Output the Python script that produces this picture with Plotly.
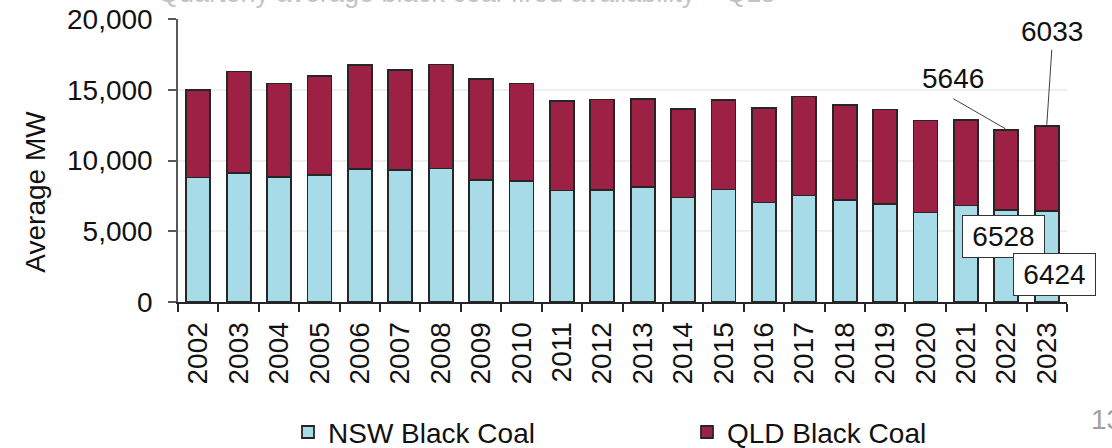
import plotly.graph_objects as go

# Q1 average black coal-fired availability by region (MW)
years = [str(y) for y in range(2002, 2024)]
nsw_mw = [8800, 9110, 8850, 8990, 9390, 9340, 9435, 8640, 8570, 7880, 7930,
          8120, 7390, 7950, 7030, 7530, 7225, 6940, 6330, 6820, 6528, 6424]
qld_mw = [6190, 7175, 6590, 7010, 7370, 7050, 7345, 7140, 6870, 6336, 6378,
          6216, 6260, 6337, 6692, 6990, 6687, 6662, 6495, 6055, 5646, 6033]
y_ticks = [0, 5000, 10000, 15000, 20000]

NSW_COLOUR = "#A6DBE7"
QLD_COLOUR = "#9C2144"
EDGE = "#262626"
FONT = "Liberation Sans, Arial, sans-serif"
FS = 28

fig = go.Figure()
fig.add_trace(go.Bar(x=years, y=nsw_mw, name="NSW Black Coal",
                     marker=dict(color=NSW_COLOUR, line=dict(color=EDGE, width=1.8))))
fig.add_trace(go.Bar(x=years, y=qld_mw, name="QLD Black Coal",
                     marker=dict(color=QLD_COLOUR, line=dict(color=EDGE, width=1.8))))

totals = [a + b for a, b in zip(nsw_mw, qld_mw)]
i22, i23 = years.index("2022"), years.index("2023")

annotations = [
    # slide heading above the chart, running off the top edge
    dict(text="Quarterly average black coal-fired availability – Q1s",
         xref="paper", yref="paper", x=0.324, y=1.093, xanchor="center", yanchor="middle",
         showarrow=False, font=dict(family=FONT, size=27, color="#C4C4C4")),
    # page number
    dict(text="13", xref="paper", yref="paper", x=1.0247, y=-0.414,
         xanchor="left", yanchor="middle", showarrow=False,
         font=dict(family=FONT, size=28, color="#A0A0A0")),
    # y axis title
    dict(text="Average MW", xref="paper", yref="paper", x=-0.16, y=0.389,
         xanchor="center", yanchor="middle", textangle=-90, showarrow=False,
         font=dict(family=FONT, size=FS, color="#111111")),
    # QLD values for the last two years
    dict(text=str(qld_mw[i22]), x=i22, y=totals[i22], xshift=-53, yshift=51,
         showarrow=False, font=dict(family=FONT, size=FS, color="#111111")),
    dict(text=str(qld_mw[i23]), x=i23, y=totals[i23], xshift=5, yshift=94,
         showarrow=False, font=dict(family=FONT, size=FS, color="#111111")),
    # NSW values for the last two years, boxed
    dict(text=str(nsw_mw[i22]), x=i22, y=nsw_mw[i22], xshift=-2.5, yshift=-27,
         showarrow=False, bgcolor="white", bordercolor="#333333", borderwidth=1,
         borderpad=4, width=73, height=33,
         font=dict(family=FONT, size=FS, color="#111111")),
    dict(text=str(nsw_mw[i23]), x=i23, y=nsw_mw[i23], xshift=8, yshift=-63,
         showarrow=False, bgcolor="white", bordercolor="#333333", borderwidth=1,
         borderpad=4, width=73, height=33,
         font=dict(family=FONT, size=FS, color="#111111")),
]

# leader lines from the QLD labels down to the bar tops
shapes = [
    dict(type="line", xref="x", yref="y", xsizemode="pixel", ysizemode="pixel",
         xanchor=i22, yanchor=totals[i22], x0=-1, y0=1, x1=-53, y1=31,
         line=dict(color="#404040", width=1)),
    dict(type="line", xref="x", yref="y", xsizemode="pixel", ysizemode="pixel",
         xanchor=i23, yanchor=totals[i23], x0=0, y0=1, x1=5, y1=76,
         line=dict(color="#404040", width=1)),
]

fig.update_layout(
    width=1112, height=448,
    margin=dict(l=178, r=45, t=19, b=146, autoexpand=False),
    barmode="stack", bargap=0.406,
    plot_bgcolor="white", paper_bgcolor="white",
    font=dict(family=FONT, size=FS, color="#111111"),
    showlegend=True,
    legend=dict(orientation="h", xref="container", yref="container",
                x=0.259, y=0.035, xanchor="left", yanchor="middle",
                entrywidth=354, entrywidthmode="pixels",
                traceorder="normal",
                font=dict(family=FONT, size=FS, color="#111111")),
    annotations=annotations,
    shapes=shapes,
)

fig.update_xaxes(type="category", range=[-0.5, len(years) - 0.5],
                 showline=True, linecolor=EDGE, linewidth=2,
                 ticks="outside", tickson="boundaries", ticklen=8, tickwidth=1.5,
                 tickcolor=EDGE, tickangle=-90, showgrid=False,
                 ticklabelstandoff=7,
                 tickfont=dict(family=FONT, size=FS, color="#111111"))
fig.update_yaxes(range=[0, 20000], tickvals=y_ticks, tickformat=",",
                 showline=True, linecolor="#595959", linewidth=1.5,
                 ticks="outside", ticklen=8, tickwidth=1.5, tickcolor="#595959",
                 showgrid=True, gridcolor="#EFEFEF", gridwidth=1.5,
                 zeroline=False, ticklabelstandoff=10,
                 tickfont=dict(family=FONT, size=FS, color="#111111"))

fig.write_html("out.html")
